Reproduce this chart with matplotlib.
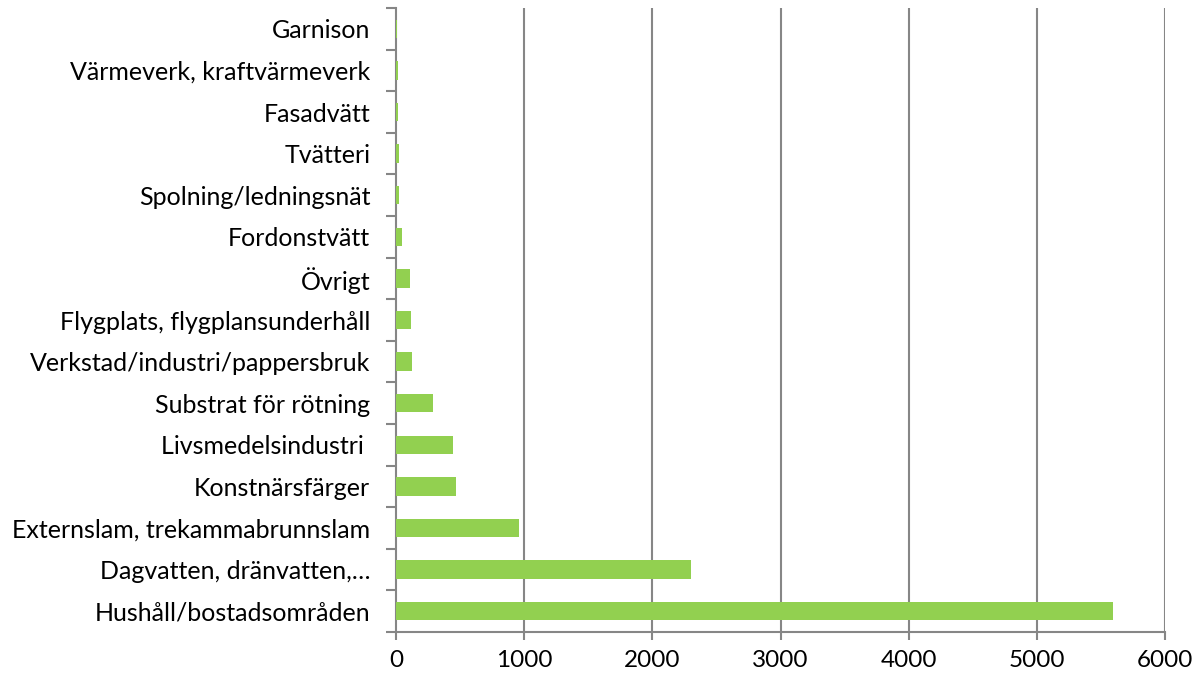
import matplotlib
matplotlib.use("Agg")
import matplotlib.pyplot as plt
import numpy as np

categories = ["Hushåll/bostadsområden", "Dagvatten, dränvatten,…", "Externslam, trekammabrunnslam",
              "Konstnärsfärger", "Livsmedelsindustri ", "Substrat för rötning",
              "Verkstad/industri/pappersbruk", "Flygplats, flygplansunderhåll", "Övrigt",
              "Fordonstvätt", "Spolning/ledningsnät", "Tvätteri", "Fasadvätt",
              "Värmeverk, kraftvärmeverk", "Garnison"]
values = [5595, 2300, 960, 468, 445, 290, 125, 117, 110, 45, 23, 20, 15, 12, 7]
xticks = [0, 1000, 2000, 3000, 4000, 5000, 6000]

plt.rcParams['font.family'] = ['Lato', 'DejaVu Sans']
fig = plt.figure(figsize=(12.02, 6.8), dpi=100)
ax = fig.add_axes([396/1202, 1-632/680, (1165-396)/1202, (632-8)/680])

y = np.arange(len(categories))
ax.barh(y, values, height=0.44, color="#92D050", zorder=3)
ax.set_ylim(-0.5, len(categories)-0.5)
ax.set_xlim(0, 6000)
ax.set_xticks(xticks)
ax.set_xticklabels([str(t) for t in xticks], fontsize=17.5)
ax.set_yticks(y)
ax.set_yticklabels(categories, fontsize=18)
ax.set_yticks(np.arange(-0.5, len(categories), 1), minor=True)
ax.tick_params(axis='y', which='major', length=0, pad=18.5)
ax.tick_params(axis='y', which='minor', length=7, width=1.5, color="#868686")
ax.tick_params(axis='x', length=6, width=1.5, color="#868686", pad=7)
for xv in xticks[1:]:
    ax.axvline(xv, color="#868686", lw=1.5, zorder=1)
for s in ['top', 'right']:
    ax.spines[s].set_visible(False)
for s in ['left', 'bottom']:
    ax.spines[s].set_color("#868686")
    ax.spines[s].set_linewidth(1.5)
    ax.spines[s].set_zorder(2)
fig.savefig("out.png", dpi=100)
